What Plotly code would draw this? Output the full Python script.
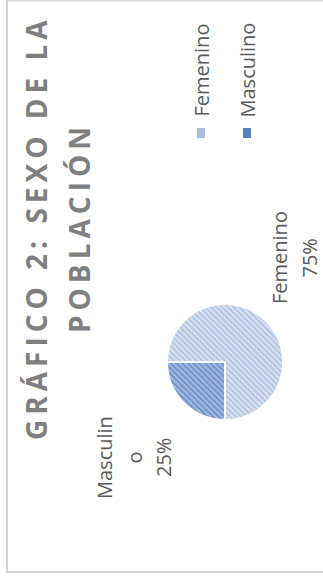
import plotly.graph_objects as go

# Data
categories = ["Femenino", "Masculino"]
values = [75, 25]
title_lines = ["GRÁFICO 2: SEXO DE LA", "POBLACIÓN"]

# Styling
W, H = 323, 586
fg_colors = ["#8fa7d1", "#3f69ac"]
bg_colors = ["#d9e2f1", "#a2bde4"]
legend_colors = ["#a9bcdd", "#5a82c2"]
text_gray = "#595959"
title_gray = "#7f7f7f"
FONT = "Open Sans"


def px(x):
    return x / W


def py(y):
    return 1 - y / H


fig = go.Figure()

fig.add_trace(go.Pie(
    labels=categories,
    values=values,
    sort=False,
    direction="clockwise",
    rotation=270,
    textinfo="none",
    hoverinfo="label+percent",
    showlegend=False,
    marker=dict(
        colors=bg_colors,
        line=dict(color="white", width=2),
        pattern=dict(shape="\\", fgcolor=fg_colors, bgcolor=bg_colors,
                     size=4, solidity=0.5, fillmode="overlay"),
    ),
    domain=dict(x=[px(167), px(283)], y=[py(420), py(304)]),
))

annotations = []

# Title, two rotated lines with wide letter spacing
for text, xc in zip(title_lines, [36, 79]):
    annotations.append(dict(
        text=f'<span style="letter-spacing:5px">{text}</span>',
        x=px(xc), y=py(228), xref="paper", yref="paper",
        xanchor="center", yanchor="middle", showarrow=False, textangle=-90,
        font=dict(family=FONT, size=28, color=title_gray, weight=700),
    ))

# Slice labels: name (wrapped at 8 characters) and percentage, one line each
total = sum(values)
label_pos = {"Femenino": (279, 258), "Masculino": (104, 458)}
line_step = 29.5
for cat, v in zip(categories, values):
    lines = [cat[i:i + 8] for i in range(0, len(cat), 8)]
    lines.append(f"{round(100 * v / total)}%")
    x0, yc = label_pos[cat]
    for k, line in enumerate(lines):
        annotations.append(dict(
            text=line, x=px(x0 + k * line_step), y=py(yc),
            xref="paper", yref="paper", xanchor="center", yanchor="middle",
            showarrow=False, textangle=-90,
            font=dict(family=FONT, size=20, color=text_gray),
        ))

# Legend drawn rotated: marker square plus text
shapes = []
legend_x = [201, 247]
for cat, col, lx in zip(categories, legend_colors, legend_x):
    annotations.append(dict(
        text=cat, x=px(lx), y=py(119), xref="paper", yref="paper",
        xanchor="center", yanchor="bottom", showarrow=False, textangle=-90,
        font=dict(family=FONT, size=20, color=text_gray),
    ))
    shapes.append(dict(
        type="rect", xref="paper", yref="paper",
        x0=px(lx - 4), x1=px(lx + 4), y0=py(138), y1=py(128),
        fillcolor=col, line=dict(width=0),
    ))

# Chart area frame
shapes.append(dict(
    type="rect", xref="paper", yref="paper",
    x0=px(7), x1=px(W + 10), y0=py(572), y1=py(0.5),
    line=dict(color="#d6d6d6", width=2), fillcolor="rgba(0,0,0,0)",
    layer="below",
))

fig.update_layout(
    width=W, height=H,
    margin=dict(l=0, r=0, t=0, b=0),
    paper_bgcolor="white", plot_bgcolor="white",
    annotations=annotations, shapes=shapes,
    showlegend=False,
)

fig.write_html("out.html")
